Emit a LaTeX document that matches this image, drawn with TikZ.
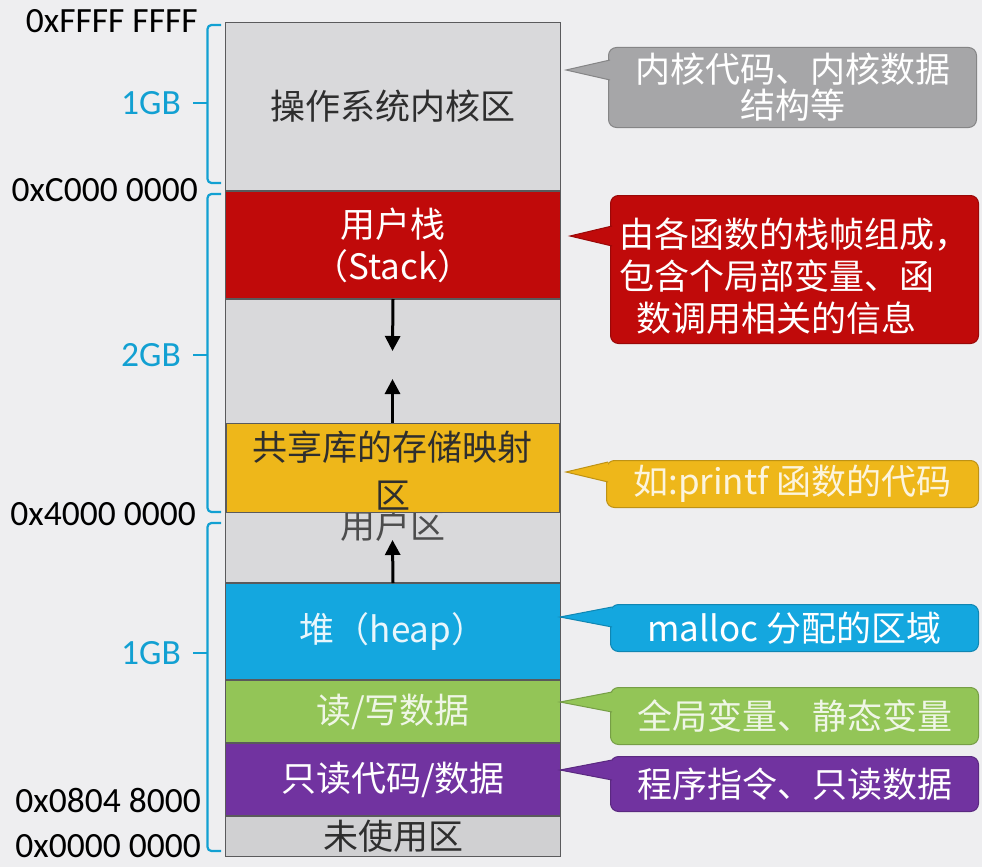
\documentclass[tikz,border=0pt]{standalone}
\usepackage{fontspec}
\setmainfont{Carlito}
\newfontfamily\cjk{Noto Sans CJK SC}
\usepackage{tikz}
\usetikzlibrary{positioning, arrows.meta, calc}
\definecolor{bggray}{HTML}{EEEEF0}
\definecolor{kerngray}{HTML}{D9D9DB}
\definecolor{segline}{HTML}{5A5A5C}
\definecolor{stackred}{HTML}{C00A0A}
\definecolor{libyellow}{HTML}{EEB71A}
\definecolor{heapblue}{HTML}{14A7DF}
\definecolor{rwgreen}{HTML}{93C557}
\definecolor{ropurple}{HTML}{7133A0}
\definecolor{unusedgray}{HTML}{D0D0D2}
\definecolor{notegray}{HTML}{A6A6A8}
\definecolor{braceblue}{HTML}{12A0D2}
\definecolor{textdark}{HTML}{2E2E2E}

\tikzset{
  seg/.style={draw=segline, line width=1pt, minimum width=335pt, inner sep=0pt,
              font=\cjk\fontsize{35}{42}\selectfont, align=center},
  note/.style={rounded corners=8pt, minimum width=368pt, inner sep=0pt, anchor=north west,
               line width=1pt, font=\cjk\fontsize{35}{42}\selectfont, align=center},
  hexlabel/.style={anchor=east, inner sep=0pt, font=\fontsize{35.5}{40}\selectfont, text=black},
  gblabel/.style={anchor=east, inner sep=0pt, font=\fontsize{35.5}{40}\selectfont, text=braceblue},
  growarrow/.style={-{Triangle[length=15pt,width=15pt]}, line width=3pt, black},
}
% pointer of a note: colour, note node, tip coordinate
\newcommand\notetip[3]{%
  \filldraw[fill=#1, draw=#1!80!black, line width=1pt]
    ($(#2.west |- #3)+(2pt,10pt)$) -- (#3) -- ($(#2.west |- #3)+(2pt,-10pt)$);
}

\begin{document}
\begin{tikzpicture}[x=1pt, y=-1pt]
  \useasboundingbox (0,0) rectangle (982,867);
  \fill[bggray] (0,0) rectangle (982,867);

  % memory column
  \node[seg, fill=kerngray, minimum height=168pt, anchor=north west, text=textdark] (kern) at (225,22) {操作系统内核区};
  \node[seg, fill=stackred, minimum height=107pt, below=0pt of kern, text=white] (stack) {用户栈\\（Stack）};
  \node[seg, fill=kerngray, minimum height=283pt, below=0pt of stack] (user) {};
  \node[seg, fill=heapblue, minimum height=96pt, below=0pt of user, text=white!90!heapblue] (heap) {堆（heap）};
  \node[seg, fill=rwgreen, minimum height=62pt, below=0pt of heap, text=white!85!rwgreen] (rw) {读/写数据};
  \node[seg, fill=ropurple, minimum height=72pt, below=0pt of rw, text=white] (ro) {只读代码/数据};
  \node[seg, fill=unusedgray, minimum height=40pt, below=0pt of ro, text=textdark] (unused) {未使用区};

  \node[font=\cjk\fontsize{35}{42}\selectfont, text=textdark!85, inner sep=0pt] (userlbl) at (392.5,525) {用户区};
  \node[seg, fill=libyellow, minimum width=333pt, minimum height=89pt, text=textdark] (shlib) at (392.5,467.5) {\rule{0pt}{36pt}共享库的存储映射\\[6pt]区};

  \coordinate (downtip) at (392.5,351);
  \coordinate (uptip) at (392.5,379);
  \coordinate (heaptip) at (392.5,540);
  \draw[growarrow] (stack.south) -- (downtip);
  \draw[growarrow] (shlib.north) -- (uptip);
  \draw[growarrow] (heap.north) -- (heaptip);

  % addresses
  \node[hexlabel] (addrtop) at (198,21) {0xFFFF FFFF};
  \node[hexlabel] (addrkern) at (198,190) {0xC000 0000};
  \node[hexlabel] (addrlib) at (196,514) {0x4000 0000};
  \node[hexlabel] (addrcode) at (201,800) {0x0804 8000};
  \node[hexlabel] (addrzero) at (201,846) {0x0000 0000};

  % size braces
  \foreach \ytop/\ybot/\ymid/\size/\name in {25/183/103/1GB/gbkern, 194/512/355/2GB/gbuser, 523/851/653/1GB/gblow}{
    \draw[braceblue, line width=2.2pt, rounded corners=4pt]
      (221,\ytop) -- (207.5,\ytop) -- (207.5,\ybot) -- (221,\ybot);
    \draw[braceblue, line width=2.2pt] (207.5,\ymid) -- (193,\ymid);
    \node[gblabel] (\name) at (181,\ymid) {\size};
  }

  % notes
  \node[note, fill=notegray, draw=notegray!80!black, minimum height=80pt, text=white] (kernnote) at (608,47) {内核代码、内核数据\\[-6pt]结构等};
  \coordinate (kerntip) at (566,70);
  \notetip{notegray}{kernnote}{kerntip}

  \node[note, fill=stackred, draw=stackred!80!black, minimum height=148pt, text=white, align=left] (stacknote) at (610,195) {\rule{0pt}{42pt}由各函数的栈帧组成，\\包含个局部变量、函\\\hspace*{17pt}数调用相关的信息};
  \coordinate (stacktip) at (570,236);
  \notetip{stackred}{stacknote}{stacktip}

  \node[note, fill=libyellow, draw=libyellow!80!black, minimum width=372pt, minimum height=47pt, text=white!85!libyellow] (libnote) at (606,460) {如:printf 函数的代码};
  \coordinate (libtip) at (566,472);
  \notetip{libyellow}{libnote}{libtip}

  \node[note, fill=heapblue, draw=heapblue!80!black, minimum height=47pt, text=white] (heapnote) at (610,604) {malloc 分配的区域};
  \coordinate (heaptipnote) at (560,617);
  \notetip{heapblue}{heapnote}{heaptipnote}

  \node[note, fill=rwgreen, draw=rwgreen!80!black, minimum height=57pt, text=white!85!rwgreen] (rwnote) at (610,687) {全局变量、静态变量};
  \coordinate (rwtip) at (560,702);
  \notetip{rwgreen}{rwnote}{rwtip}

  \node[note, fill=ropurple, draw=ropurple!80!black, minimum height=55pt, text=white] (ronote) at (610,756) {程序指令、只读数据};
  \coordinate (rotip) at (560,770);
  \notetip{ropurple}{ronote}{rotip}
\end{tikzpicture}
\end{document}
